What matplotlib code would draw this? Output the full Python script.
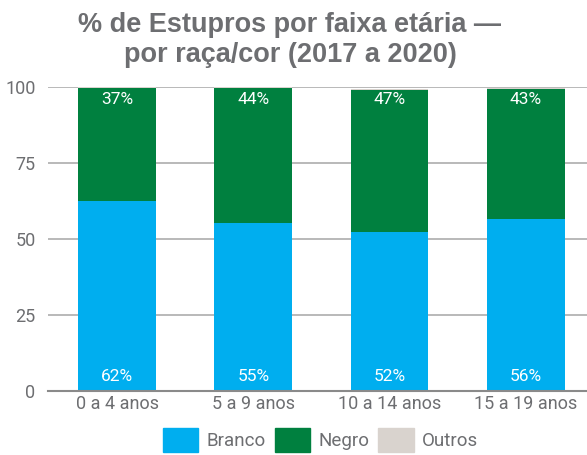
import numpy as np
import matplotlib.pyplot as plt
from matplotlib.patches import Patch

categorias = ['0 a 4 anos', '5 a 9 anos', '10 a 14 anos', '15 a 19 anos']
branco = [62.4, 55.3, 52.3, 56.5]
negro = [37.3, 44.4, 46.8, 42.8]
outros = [0.3, 0.3, 0.2, 0.3]
rotulos_branco = ['62%', '55%', '52%', '56%']
rotulos_negro = ['37%', '44%', '47%', '43%']

cor_branco = '#00aeef'
cor_negro = '#00803f'
cor_outros = '#d9d3ce'
cinza = '#6d6e71'

plt.rcParams['font.family'] = ['Roboto', 'DejaVu Sans']

fig = plt.figure(figsize=(5.87, 4.55), dpi=100)
ax = fig.add_axes([48 / 587, 1 - 391 / 455, 1 - 48 / 587, (391 - 87) / 455])

x = np.arange(len(categorias))
w = 0.57
ax.bar(x, branco, w, color=cor_branco, zorder=3)
ax.bar(x, negro, w, bottom=branco, color=cor_negro, zorder=3)
base3 = np.array(branco) + np.array(negro)
ax.bar(x, outros, w, bottom=base3, color=cor_outros, zorder=3)

for i in range(len(x)):
    ax.text(x[i], 2.3, rotulos_branco[i], ha='center', va='bottom',
            color='white', fontsize=12.5, zorder=4)
    ax.text(x[i], 100 - 1.8, rotulos_negro[i], ha='center', va='top',
            color='white', fontsize=12.5, zorder=4)

ax.set_xlim(-0.507, 3.45)
ax.set_ylim(0, 100)
ax.set_yticks([0, 25, 50, 75, 100])
ax.set_xticks(x)
ax.set_xticklabels(categorias)
ax.tick_params(axis='both', length=0, labelsize=13, labelcolor=cinza)
ax.tick_params(axis='y', pad=9)
ax.tick_params(axis='x', pad=3)
ax.grid(axis='y', color='#a6a6a6', lw=1.1, zorder=0)
for s in ['top', 'right', 'left']:
    ax.spines[s].set_visible(False)
ax.spines['bottom'].set_color('#8a8a8a')
ax.spines['bottom'].set_linewidth(1.5)
ax.spines['bottom'].set_zorder(5)

fig.text(0.494, 0.912, '% de Estupros por faixa etária —\npor raça/cor (2017 a 2020)',
         ha='center', va='center', fontsize=19.5, fontweight='bold', color=cinza,
         family='Liberation Sans', linespacing=1.2)

handles = [Patch(color=cor_branco, label='Branco'),
           Patch(color=cor_negro, label='Negro'),
           Patch(color=cor_outros, label='Outros')]
fig.legend(handles=handles, loc='lower center', bbox_to_anchor=(0.546, -0.03), ncol=3,
           frameon=False, fontsize=13.5, handlelength=1.9, handleheight=1.6,
           columnspacing=0.45, handletextpad=0.45, labelcolor=cinza)

fig.savefig('out.png', dpi=100)
